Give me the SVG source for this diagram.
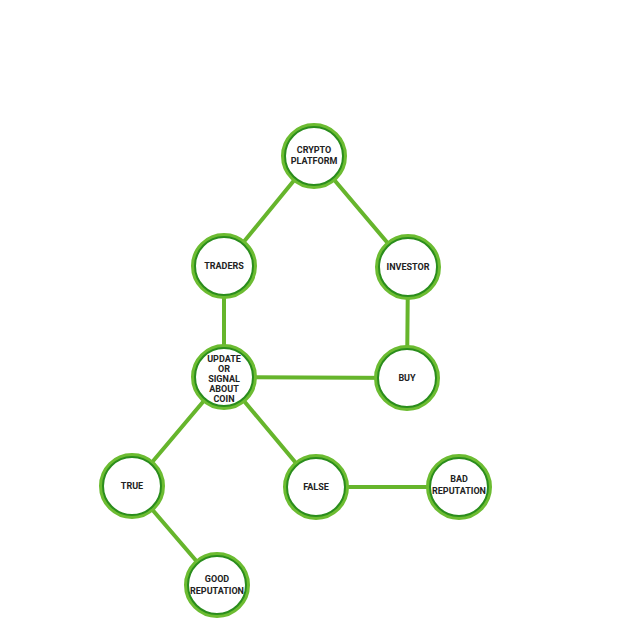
<svg xmlns="http://www.w3.org/2000/svg" width="640" height="640" viewBox="0 0 640 640">
<style>
.edge{stroke:#66b52c;stroke-width:4;fill:none;stroke-linecap:round}
.ring{fill:#fff;stroke:#6cbc31;stroke-width:4}
.inner{fill:none;stroke:#2a8d1c;stroke-width:2}
.lbl{font-family:Roboto,"Liberation Sans",sans-serif;font-weight:bold;font-size:9px;fill:#222;text-anchor:middle}
</style>
<rect width="640" height="640" fill="#fff"/>
<g id="connectors">
<line class="edge" x1="314" y1="156" x2="224" y2="266"/>
<line class="edge" x1="314" y1="156" x2="408" y2="267"/>
<line class="edge" x1="224" y1="266" x2="224" y2="377"/>
<line class="edge" x1="408" y1="267" x2="407" y2="378"/>
<line class="edge" x1="224" y1="377" x2="407" y2="378"/>
<line class="edge" x1="224" y1="377" x2="132" y2="486"/>
<line class="edge" x1="224" y1="377" x2="316" y2="487"/>
<line class="edge" x1="316" y1="487" x2="459" y2="487"/>
<line class="edge" x1="132" y1="486" x2="217" y2="585"/>
</g>
<g id="crypto"><circle class="ring" cx="314" cy="156" r="31"/><circle class="inner" cx="314" cy="156" r="29"/><text class="lbl" x="314" y="153">CRYPTO</text><text class="lbl" x="314" y="164">PLATFORM</text></g>
<g id="traders"><circle class="ring" cx="224" cy="266" r="31"/><circle class="inner" cx="224" cy="266" r="29"/><text class="lbl" x="224" y="269">TRADERS</text></g>
<g id="investor"><circle class="ring" cx="408" cy="267" r="31"/><circle class="inner" cx="408" cy="267" r="29"/><text class="lbl" x="408" y="270">INVESTOR</text></g>
<g id="update"><circle class="ring" cx="224" cy="377" r="31"/><circle class="inner" cx="224" cy="377" r="29"/><text class="lbl" x="224" y="362">UPDATE</text><text class="lbl" x="224" y="372">OR</text><text class="lbl" x="224" y="382">SIGNAL</text><text class="lbl" x="224" y="392">ABOUT</text><text class="lbl" x="224" y="402">COIN</text></g>
<g id="buy"><circle class="ring" cx="407" cy="378" r="31"/><circle class="inner" cx="407" cy="378" r="29"/><text class="lbl" x="407" y="381">BUY</text></g>
<g id="true"><circle class="ring" cx="132" cy="486" r="31"/><circle class="inner" cx="132" cy="486" r="29"/><text class="lbl" x="132" y="489">TRUE</text></g>
<g id="false"><circle class="ring" cx="316" cy="487" r="31"/><circle class="inner" cx="316" cy="487" r="29"/><text class="lbl" x="316" y="490">FALSE</text></g>
<g id="bad"><circle class="ring" cx="459" cy="487" r="31"/><circle class="inner" cx="459" cy="487" r="29"/><text class="lbl" x="459" y="482">BAD</text><text class="lbl" x="459" y="494">REPUTATION</text></g>
<g id="good"><circle class="ring" cx="217" cy="585" r="31"/><circle class="inner" cx="217" cy="585" r="29"/><text class="lbl" x="217" y="582">GOOD</text><text class="lbl" x="217" y="594">REPUTATION</text></g>
</svg>
